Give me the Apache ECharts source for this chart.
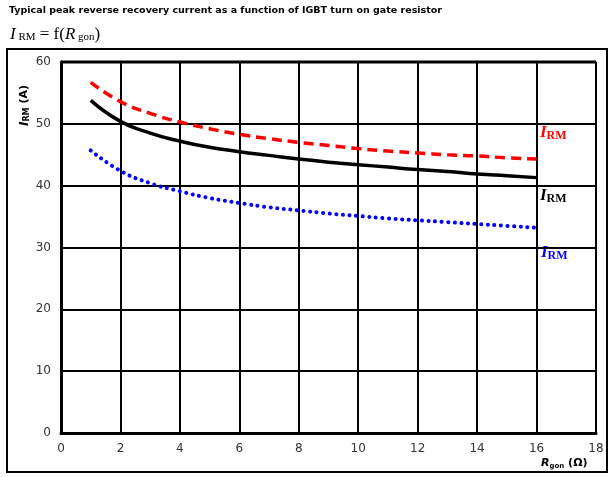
<!DOCTYPE html>
<html>
<head>
<meta charset="utf-8">
<script src="https://cdn.jsdelivr.net/npm/echarts@6/dist/echarts.min.js"></script>
<style>
  html, body { margin: 0; padding: 0; background: #fff; }
  #chart { width: 613px; height: 477px; }
</style>
</head>
<body>
<div id="chart"></div>
<script>
// Gate resistance R_gon (Ω)
const rgon = [1, 2, 3, 4, 5, 6, 7, 8, 9, 10, 11, 12, 13, 14, 15, 16];
// Peak reverse recovery current I_RM (A), three operating conditions
const irmRed   = [56.7, 53.6, 51.7, 50.3, 49.2, 48.3, 47.6, 47.0, 46.5, 46.0, 45.6, 45.3, 45.0, 44.8, 44.5, 44.3];
const irmBlack = [53.8, 50.4, 48.5, 47.2, 46.2, 45.5, 44.9, 44.3, 43.8, 43.4, 43.0, 42.6, 42.3, 41.9, 41.6, 41.3];
const irmBlue  = [45.7, 42.4, 40.4, 39.1, 38.0, 37.2, 36.5, 36.0, 35.5, 35.1, 34.7, 34.4, 34.1, 33.8, 33.5, 33.2];
// Axis ranges and tick spacing
const xTicks = { min: 0, max: 18, interval: 2 };
const yTicks = { min: 0, max: 60, interval: 10 };

const pair = (xs, ys) => xs.map((x, i) => [x, ys[i]]);

const chart = echarts.init(document.getElementById('chart'), null, { renderer: 'canvas' });

const serif = '"Liberation Serif", "DejaVu Serif", serif';
const sans = '"DejaVu Sans", Verdana, sans-serif';

function irmLabel(color) {
  return {
    text: '{i|I}{s|RM}',
    rich: {
      i: { fontFamily: serif, fontStyle: 'italic', fontWeight: 'bold', fontSize: 17, fill: color },
      s: { fontFamily: serif, fontWeight: 'bold', fontSize: 12, fill: color, padding: [6, 0, 0, 0] }
    }
  };
}

chart.setOption({
  animation: false,
  backgroundColor: '#fff',
  grid: { left: 61, right: 17, top: 62, bottom: 44, containLabel: false },
  xAxis: {
    type: 'value',
    min: xTicks.min, max: xTicks.max, interval: xTicks.interval,
    axisLine: { show: true, onZero: false, lineStyle: { color: '#000', width: 3 } },
    axisTick: { show: false },
    axisLabel: { color: '#333', fontFamily: sans, fontSize: 12, margin: 10 },
    splitLine: { show: true, lineStyle: { color: '#000', width: 2 } }
  },
  yAxis: {
    type: 'value',
    min: yTicks.min, max: yTicks.max, interval: yTicks.interval,
    axisLine: { show: true, lineStyle: { color: '#000', width: 3 } },
    axisTick: { show: false },
    axisLabel: { color: '#333', fontFamily: sans, fontSize: 12, margin: 10 },
    splitLine: { show: true, lineStyle: { color: '#000', width: 2 } }
  },
  series: [
    {
      type: 'line', data: pair(rgon, irmRed), smooth: true, showSymbol: false,
      lineStyle: { color: '#ff0000', width: 3.5, type: [10, 6], cap: 'butt' }, z: 3
    },
    {
      type: 'line', data: pair(rgon, irmBlack), smooth: true, showSymbol: false,
      lineStyle: { color: '#000', width: 3.5 }, z: 3
    },
    {
      type: 'line', data: pair(rgon, irmBlue), smooth: true, showSymbol: false,
      lineStyle: { color: '#0000ff', width: 4, type: [0.1, 6.5], cap: 'round' }, z: 3
    }
  ],
  graphic: [
    { type: 'rect', shape: { x: 7, y: 49, width: 600, height: 423 },
      style: { fill: null, stroke: '#000', lineWidth: 2 }, z: 0 },
    // top edge of the plot frame
    { type: 'line', shape: { x1: 61, y1: 62, x2: 596, y2: 62 },
      style: { stroke: '#000', lineWidth: 3 }, z: 2 },
    { type: 'text', left: 9, top: 6,
      style: { text: 'Typical peak reverse recovery current as a function of IGBT turn on gate resistor',
               fontFamily: sans, fontWeight: 'bold', fontSize: 9.5, fill: '#000' } },
    { type: 'text', left: 10, top: 26,
      style: {
        text: '{i|I}{s| RM}{n| = f(}{i|R}{s| gon}{n|)}',
        rich: {
          i: { fontFamily: serif, fontStyle: 'italic', fontSize: 17, fill: '#000' },
          n: { fontFamily: serif, fontSize: 17, fill: '#000' },
          s: { fontFamily: serif, fontSize: 11, fill: '#000', padding: [6, 0, 0, 0] }
        }
      } },
    { type: 'text', x: 18, y: 126, rotation: Math.PI / 2,
      style: {
        text: '{i|I}{s|RM}{n| (A)}',
        rich: {
          i: { fontFamily: sans, fontStyle: 'italic', fontWeight: 'bold', fontSize: 12, fill: '#000' },
          s: { fontFamily: sans, fontWeight: 'bold', fontSize: 8, fill: '#000', padding: [5, 0, 0, 0] },
          n: { fontFamily: sans, fontWeight: 'bold', fontSize: 11, fill: '#000' }
        }
      } },
    { type: 'text', left: 541, top: 458,
      style: {
        text: '{i|R}{s|gon}{n| (Ω)}',
        rich: {
          i: { fontFamily: sans, fontStyle: 'italic', fontWeight: 'bold', fontSize: 11, fill: '#000' },
          s: { fontFamily: sans, fontWeight: 'bold', fontSize: 7, fill: '#000', padding: [5, 0, 0, 0] },
          n: { fontFamily: sans, fontWeight: 'bold', fontSize: 11, fill: '#000' }
        }
      } },
    { type: 'text', left: 540, top: 124, style: irmLabel('#ff0000') },
    { type: 'text', left: 540, top: 187, style: irmLabel('#000000') },
    { type: 'text', left: 541, top: 244, style: irmLabel('#0000ff') }
  ]
});
</script>
</body>
</html>
